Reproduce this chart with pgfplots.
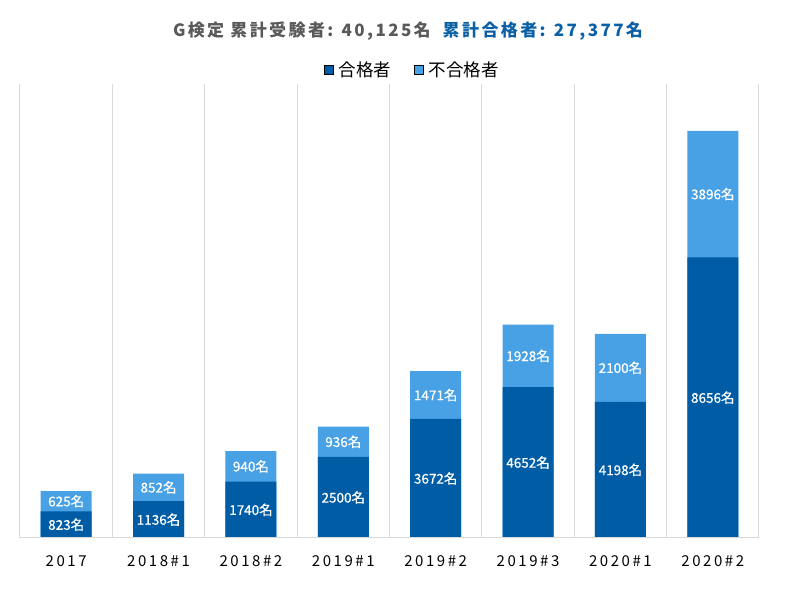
\documentclass[border=0pt]{standalone}
\usepackage{fontspec}
\setmainfont{Noto Sans CJK JP}
\usepackage{pgfplots}
\pgfplotsset{compat=1.18}
\usepackage{pgfplotstable}
\definecolor{pass}{HTML}{005DA5}
\definecolor{fail}{HTML}{47A1E4}
\definecolor{ttlgray}{HTML}{595959}
\definecolor{ttlblue}{HTML}{0B5FA5}
\definecolor{gridc}{HTML}{D9D9D9}
\pgfplotstableread{
x pass fail
0 823 625
1 1136 852
2 1740 940
3 2500 936
4 3672 1471
5 4652 1928
6 4198 2100
7 8656 3896
}\data
\begin{document}
\begin{tikzpicture}
\useasboundingbox (0,0) rectangle (793pt,597pt);
\node[anchor=center, inner sep=0pt, font=\fontsize{17}{19}\selectfont\bfseries\addfontfeature{LetterSpace=14}] at (408pt,566pt)
  {\textcolor{ttlgray}{G検定 累計受験者: 40,125名}\hspace{12pt}\textcolor{ttlblue}{累計合格者: 27,377名}};
\begin{axis}[
  at={(20pt,59pt)}, anchor=south west,
  scale only axis, width=739pt, height=454pt,
  xmin=-0.5, xmax=7.5, ymin=0, ymax=14000,
  axis line style={draw=none},
  ytick=\empty,
  xtick={0,...,7},
  xticklabels={2017,2018\#1,2018\#2,2019\#1,2019\#2,2019\#3,2020\#1,2020\#2},
  major tick length=0pt, minor tick length=0pt,
  minor xtick={-0.5,0.5,...,7.5},
  xminorgrids, minor grid style={gridc, line width=1pt},
  xticklabel style={font=\fontsize{15}{17}\selectfont\addfontfeature{LetterSpace=17}, yshift=-14pt},
  legend style={at={(0.533,1)}, anchor=south, yshift=2pt, draw=none, fill=none,
    legend columns=2, font=\fontsize{17.5}{19}\selectfont,
    /tikz/every even column/.append style={column sep=18pt},
    nodes={inner xsep=5pt},
    legend cell align=left},
  legend image code/.code={\fill[#1] (0pt,-4.5pt) rectangle (9pt,4.5pt);},
  clip=false,
]
\addlegendimage{fill=pass}\addlegendentry{合格者}
\addlegendimage{fill=fail}\addlegendentry{不合格者}
\addplot[ybar, bar width=51pt, bar shift=0pt, fill=fail, draw=none, forget plot]
  table[x=x, y expr=\thisrow{pass}+\thisrow{fail}]{\data};
\addplot[ybar, bar width=51pt, bar shift=0pt, fill=pass, draw=none, forget plot]
  table[x=x, y=pass]{\data};
\draw[gridc, line width=1pt] (axis cs:-0.5,0) -- (axis cs:7.5,0);
\addplot[draw=none, mark=none, forget plot, point meta=explicit symbolic,
  nodes near coords={\pgfplotspointmeta 名},
  every node near coord/.style={anchor=center, text=white, font=\fontsize{13.5}{15}\selectfont\addfontfeature{FakeBold=0.6}}]
  table[x=x, y expr=\thisrow{pass}/2, meta=pass]{\data};
\addplot[draw=none, mark=none, forget plot, point meta=explicit symbolic,
  nodes near coords={\pgfplotspointmeta 名},
  every node near coord/.style={anchor=center, text=white, font=\fontsize{13.5}{15}\selectfont\addfontfeature{FakeBold=0.6}}]
  table[x=x, y expr=\thisrow{pass}+\thisrow{fail}/2, meta=fail]{\data};
\end{axis}
\end{tikzpicture}
\end{document}
